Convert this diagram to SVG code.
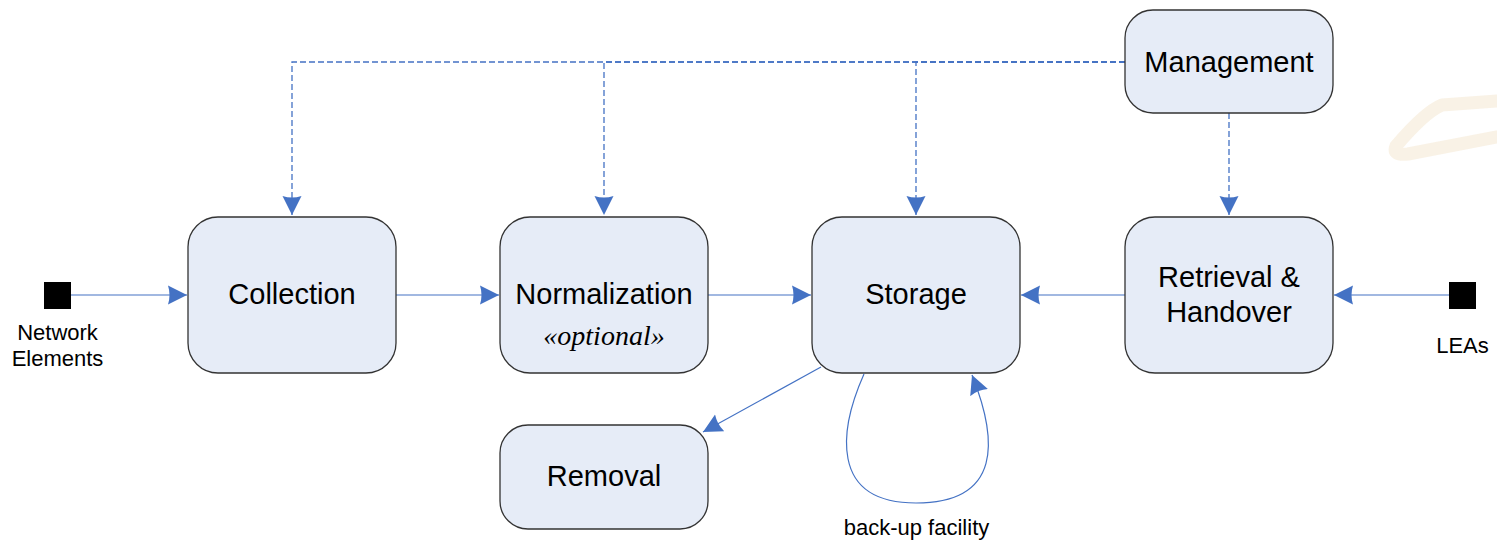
<svg xmlns="http://www.w3.org/2000/svg" width="1497" height="540" viewBox="0 0 1497 540">
<style>
.box{fill:#E6ECF7;stroke:#333333;stroke-width:1.3}
.lbl{font-family:"Liberation Sans",Arial,sans-serif;font-size:29px;fill:#000;text-anchor:middle}
.small{font-family:"Liberation Sans",Arial,sans-serif;font-size:22px;fill:#000;text-anchor:middle}
.opt{font-family:"Liberation Serif","Times New Roman",serif;font-style:italic;font-size:28px;fill:#000;text-anchor:middle}
.solid{fill:none;stroke:#4472C4;stroke-width:1.2}
.dash{fill:none;stroke:#4472C4;stroke-width:1.3;stroke-dasharray:6 3}
</style>
<defs>
<marker id="arr" markerWidth="20" markerHeight="20" viewBox="0 0 20 20" refX="19" refY="10" orient="auto" markerUnits="userSpaceOnUse">
<path d="M0,0.5 L19,10 L0,19.5 Q3,10 0,0.5 Z" fill="#4472C4"/>
</marker>
</defs>
<rect width="1497" height="540" fill="#FFFFFF"/>
<path d="M1497,101 L1442,105 Q1425,112 1396,146 Q1392,156 1408,154 L1497,137" fill="none" stroke="#F7EEDD" stroke-width="13" stroke-linecap="round" stroke-linejoin="round" opacity="0.75"/>
<g id="connectors">
<path class="dash" d="M1125,62 H292 V215" marker-end="url(#arr)"/>
<path class="dash" d="M1125,62 H604 V215" marker-end="url(#arr)"/>
<path class="dash" d="M1125,62 H916 V215" marker-end="url(#arr)"/>
<path class="dash" d="M1229,113 V215" marker-end="url(#arr)"/>
<path class="solid" d="M71,295 H187" marker-end="url(#arr)"/>
<path class="solid" d="M396,295 H499" marker-end="url(#arr)"/>
<path class="solid" d="M708,295 H811" marker-end="url(#arr)"/>
<path class="solid" d="M1125,295 H1021" marker-end="url(#arr)"/>
<path class="solid" d="M1449,295 H1334" marker-end="url(#arr)"/>
<path class="solid" d="M821,367 L703,432" marker-end="url(#arr)"/>
<path class="solid" d="M864,374 C840,428 828,503 916,503 C1002,503 998,440 972,375" marker-end="url(#arr)"/>
</g>
<g id="network-elements">
<rect x="44" y="282" width="27" height="27" fill="#000"/>
<text class="small" x="57.5" y="340">Network</text>
<text class="small" x="57.5" y="366">Elements</text>
</g>
<g id="leas">
<rect x="1449" y="282" width="27" height="27" fill="#000"/>
<text class="small" x="1462.5" y="353">LEAs</text>
</g>
<g id="management">
<rect class="box" x="1125" y="10" width="208" height="103" rx="28"/>
<text class="lbl" x="1229" y="72">Management</text>
</g>
<g id="collection">
<rect class="box" x="188" y="217" width="208" height="156" rx="30"/>
<text class="lbl" x="292" y="304">Collection</text>
</g>
<g id="normalization">
<rect class="box" x="500" y="217" width="208" height="156" rx="30"/>
<text class="lbl" x="604" y="303.5">Normalization</text>
<text class="opt" x="604" y="345">«optional»</text>
</g>
<g id="storage">
<rect class="box" x="812" y="217" width="208" height="156" rx="30"/>
<text class="lbl" x="916" y="304">Storage</text>
</g>
<g id="retrieval">
<rect class="box" x="1125" y="217" width="208" height="156" rx="30"/>
<text class="lbl" x="1229" y="287">Retrieval &amp;</text>
<text class="lbl" x="1229" y="322">Handover</text>
</g>
<g id="removal">
<rect class="box" x="500" y="425" width="208" height="104" rx="28"/>
<text class="lbl" x="604" y="486">Removal</text>
</g>
<g id="backup-label">
<text class="small" x="916.5" y="535">back-up facility</text>
</g>
</svg>
